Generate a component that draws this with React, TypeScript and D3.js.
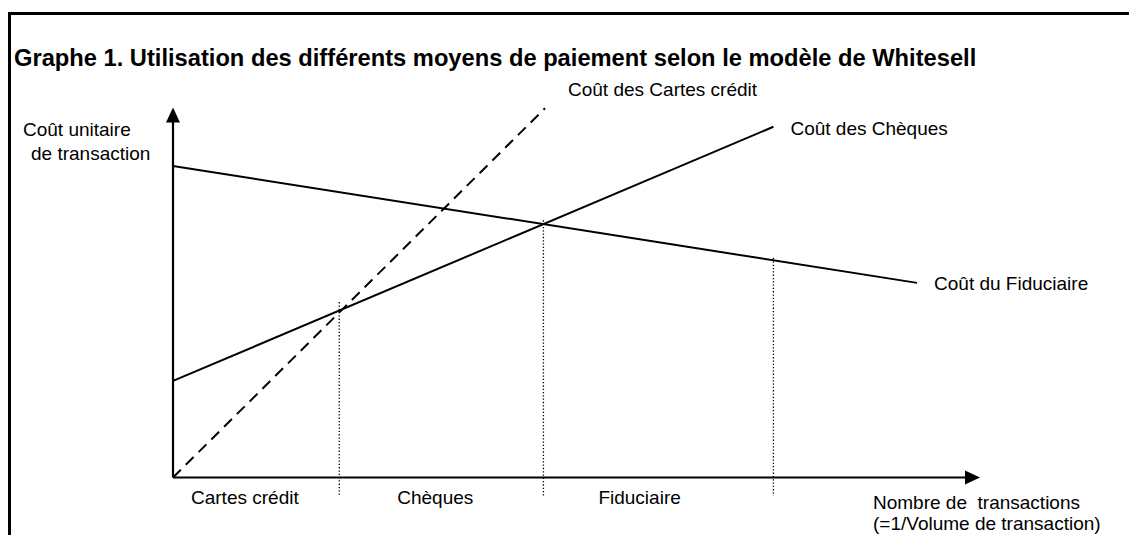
import React, { useEffect, useRef } from "react";
import * as d3 from "d3";

const title = "Graphe 1. Utilisation des différents moyens de paiement selon le modèle de Whitesell";

// cost curves, [x, y] in arbitrary units (both axes 0..100)
const coutFiduciaire = [[0, 84.2], [92.2, 52.6]];
const coutCheques = [[0, 26.1], [74.4, 94.8]];
const coutCartes = [[0, 0], [46.1, 99.8]];

const curveLabels = ["Coût des Cartes crédit", "Coût des Chèques", "Coût du Fiduciaire"];

// dotted separators between the zones
const sepX = [20.6, 45.9, 74.4];
const sepTop = [47.4, 69.5, 59.3];
const sepBottom = -5;

const zoneLabels = ["Cartes crédit", "Chèques", "Fiduciaire"];
const zoneStart = [0, 20.6, 45.9];

const yLabel = ["Coût unitaire", "de transaction"];
const xLabel = ["Nombre de  transactions", "(=1/Volume de transaction)"];

const App = () => {
    const svgRef = useRef(null);
    const width = 1129;
    const height = 535;
    const font = "'Liberation Sans', Arial, sans-serif";

    useEffect(() => {
        const svg = d3.select(svgRef.current);
        svg.selectAll("*").remove();

        const x = d3.scaleLinear().domain([0, 100]).range([173, 980]);
        const y = d3.scaleLinear().domain([0, 100]).range([477.5, 107.5]);

        // frame (top + left only)
        svg.append("path")
            .attr("d", `M9.5,${height} L9.5,13.5 L${width},13.5`)
            .attr("fill", "none")
            .attr("stroke", "#000")
            .attr("stroke-width", 3);

        svg.append("text")
            .attr("x", 14)
            .attr("y", 66)
            .attr("font-family", font)
            .attr("font-weight", "bold")
            .attr("font-size", 23.7)
            .text(title);

        // axes
        svg.append("line")
            .attr("x1", x(0)).attr("y1", y(0))
            .attr("x2", x(0)).attr("y2", y(100) + 10)
            .attr("stroke", "#000").attr("stroke-width", 2.2);
        svg.append("line")
            .attr("x1", x(0)).attr("y1", y(0))
            .attr("x2", x(100) - 10).attr("y2", y(0))
            .attr("stroke", "#000").attr("stroke-width", 2.2);
        // arrow heads
        svg.append("path")
            .attr("d", `M${x(0)},${y(100)} L${x(0) - 7},${y(100) + 15} L${x(0) + 7},${y(100) + 15} Z`)
            .attr("fill", "#000");
        svg.append("path")
            .attr("d", `M${x(100)},${y(0)} L${x(100) - 15},${y(0) - 7} L${x(100) - 15},${y(0) + 7} Z`)
            .attr("fill", "#000");

        // dotted separators
        svg.selectAll(".sep")
            .data(sepX)
            .enter()
            .append("line")
            .attr("x1", d => x(d)).attr("x2", d => x(d))
            .attr("y1", (d, i) => y(sepTop[i]))
            .attr("y2", y(sepBottom))
            .attr("stroke", "#000")
            .attr("stroke-width", 1.3)
            .attr("stroke-dasharray", "1.3,2");

        const line = d3.line().x(d => x(d[0])).y(d => y(d[1]));
        const curves = [coutCartes, coutCheques, coutFiduciaire];
        svg.selectAll(".curve")
            .data(curves)
            .enter()
            .append("path")
            .attr("d", d => line(d))
            .attr("fill", "none")
            .attr("stroke", "#000")
            .attr("stroke-width", 2)
            .attr("stroke-dasharray", (d, i) => (i === 0 ? "11,7" : null));

        const labelOffset = [[23, -12], [17, 8.5], [17, 7.5]];
        svg.selectAll(".curveLabel")
            .data(curves)
            .enter()
            .append("text")
            .attr("x", (d, i) => x(d[1][0]) + labelOffset[i][0])
            .attr("y", (d, i) => y(d[1][1]) + labelOffset[i][1])
            .attr("font-family", font)
            .attr("font-size", 19)
            .text((d, i) => curveLabels[i]);

        const zoneDx = [18, 58, 55];
        svg.selectAll(".zone")
            .data(zoneLabels)
            .enter()
            .append("text")
            .attr("x", (d, i) => x(zoneStart[i]) + zoneDx[i])
            .attr("y", y(0) + 26.5)
            .attr("font-family", font)
            .attr("font-size", 19)
            .text(d => d);

        const yLabelX = [23, 31];
        svg.selectAll(".ylab")
            .data(yLabel)
            .enter()
            .append("text")
            .attr("x", (d, i) => yLabelX[i])
            .attr("y", (d, i) => 136 + i * 24)
            .attr("font-family", font)
            .attr("font-size", 19)
            .text(d => d);

        svg.selectAll(".xlab")
            .data(xLabel)
            .enter()
            .append("text")
            .attr("x", 873)
            .attr("y", (d, i) => 509 + i * 21)
            .attr("font-family", font)
            .attr("font-size", 19)
            .style("white-space", "pre")
            .text(d => d);
    }, []);

    return (
        <svg
            ref={svgRef}
            width={width}
            height={height}
            style={{ position: "absolute", left: 0, top: 0, background: "#fff" }}
        />
    );
};

export default App;
